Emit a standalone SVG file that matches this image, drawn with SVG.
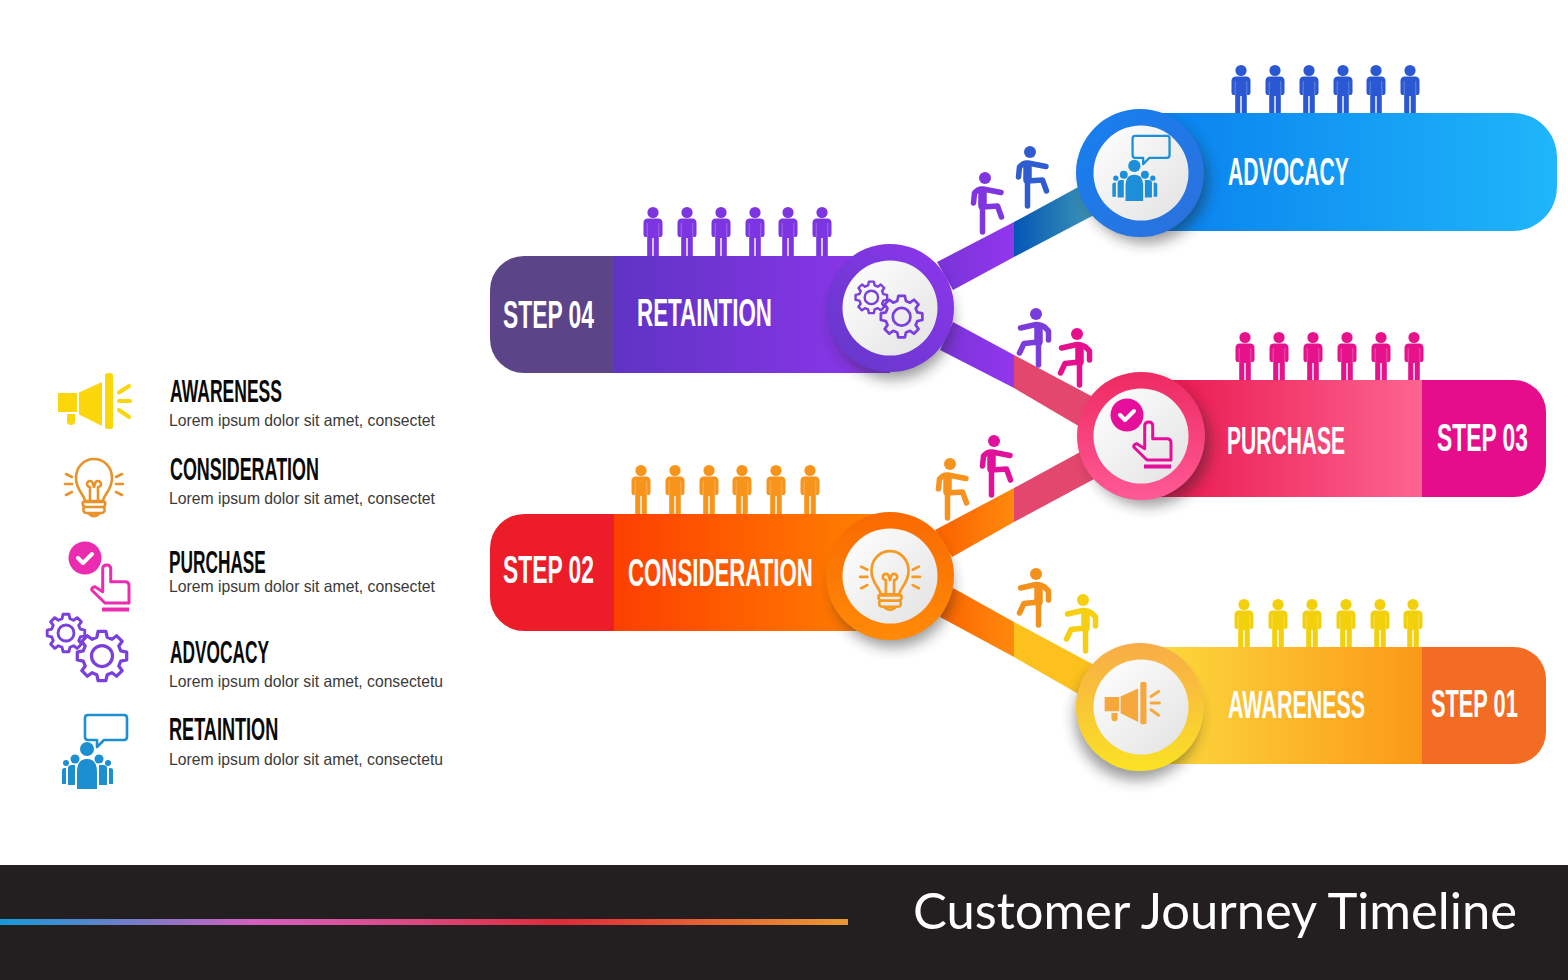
<svg xmlns="http://www.w3.org/2000/svg" xmlns:xlink="http://www.w3.org/1999/xlink" width="1568" height="980" viewBox="0 0 1568 980">
<style>
.head{font-family:"Liberation Sans",Arial,sans-serif;font-weight:700;font-size:38px;fill:#fff}
.lt{font-family:"Liberation Sans",Arial,sans-serif;font-weight:700;font-size:31px;fill:#0a0a0a}
.ld{font-family:"Liberation Sans",Arial,sans-serif;font-size:16.5px;fill:#3a3a3a}
.title{font-family:Lato,"Noto Sans",sans-serif;font-size:51px;fill:#fff}
.disc{fill:url(#disc)}
.sh{fill:#222;opacity:.45;filter:url(#blur)}
.line{fill:none;stroke:currentColor;stroke-linecap:round;stroke-linejoin:round}
.solid{fill:currentColor}
</style>
<defs>
<filter id="blur" x="-30%" y="-30%" width="160%" height="160%"><feGaussianBlur stdDeviation="7"/></filter>
<linearGradient id="disc" x1="0" y1="0" x2="1" y2="1"><stop offset="0" stop-color="#fff"/><stop offset="1" stop-color="#e2e2e2"/></linearGradient>
<linearGradient id="barBlue" gradientUnits="userSpaceOnUse" x1="1160" y1="0" x2="1557" y2="0"><stop offset="0" stop-color="#0a82ee"/><stop offset="1" stop-color="#1fb6fa"/></linearGradient>
<linearGradient id="barPink" gradientUnits="userSpaceOnUse" x1="1160" y1="0" x2="1422" y2="0"><stop offset="0" stop-color="#e8184f"/><stop offset="1" stop-color="#fd6490"/></linearGradient>
<linearGradient id="barGold" gradientUnits="userSpaceOnUse" x1="1160" y1="0" x2="1422" y2="0"><stop offset="0" stop-color="#fcd83c"/><stop offset="1" stop-color="#fb9818"/></linearGradient>
<linearGradient id="barPurple" gradientUnits="userSpaceOnUse" x1="614" y1="0" x2="880" y2="0"><stop offset="0" stop-color="#5f33c4"/><stop offset="1" stop-color="#8c36ea"/></linearGradient>
<linearGradient id="barOrange" gradientUnits="userSpaceOnUse" x1="614" y1="0" x2="880" y2="0"><stop offset="0" stop-color="#fd3f00"/><stop offset="1" stop-color="#ff8200"/></linearGradient>
<linearGradient id="ringBlue" x1="0" y1="0" x2="1" y2="1"><stop offset="0" stop-color="#1580f0"/><stop offset="1" stop-color="#2d70dc"/></linearGradient>
<linearGradient id="ringPink" x1="0" y1="0" x2="0" y2="1"><stop offset="0" stop-color="#ee2a62"/><stop offset="1" stop-color="#ff5a96"/></linearGradient>
<linearGradient id="ringGold" x1="0" y1="0" x2="0" y2="1"><stop offset="0" stop-color="#f8ac48"/><stop offset="1" stop-color="#fae224"/></linearGradient>
<linearGradient id="ringPurple" x1="0" y1="1" x2="1" y2="0"><stop offset="0" stop-color="#6238c8"/><stop offset="1" stop-color="#8f36ee"/></linearGradient>
<linearGradient id="ringOrange" x1="0" y1="0" x2="0" y2="1"><stop offset="0" stop-color="#f96a00"/><stop offset="1" stop-color="#ff8a08"/></linearGradient>
<linearGradient id="linkBlue" gradientUnits="userSpaceOnUse" x1="1014" y1="0" x2="1090" y2="0"><stop offset="0" stop-color="#0456b6"/><stop offset="1" stop-color="#3b93b4"/></linearGradient>
<linearGradient id="linkViolet" gradientUnits="userSpaceOnUse" x1="940" y1="0" x2="1014" y2="0"><stop offset="0" stop-color="#7a34d8"/><stop offset="1" stop-color="#9236ee"/></linearGradient>
<linearGradient id="linkOrange" gradientUnits="userSpaceOnUse" x1="940" y1="0" x2="1014" y2="0"><stop offset="0" stop-color="#fb6400"/><stop offset="1" stop-color="#ff8a0c"/></linearGradient>
<linearGradient id="rule" x1="0" y1="0" x2="1" y2="0"><stop offset="0" stop-color="#159ad8"/><stop offset=".14" stop-color="#6a80c8"/><stop offset=".3" stop-color="#d460c0"/><stop offset=".48" stop-color="#dc4a84"/><stop offset=".66" stop-color="#e02a38"/><stop offset="1" stop-color="#ea9a30"/></linearGradient>

<!-- figure standing on a bar: origin at the feet -->
<g id="person">
<circle cx="0" cy="-43.500" r="5.600" class="solid"/>
<path class="solid" d="M-5-37.500H5Q9.500-37.500 9.500-33V-22Q9.500-19 7.500-19H5.800V0H.7V-18H-.7V0H-5.800V-19H-7.500Q-9.500-19-9.500-22V-33Q-9.500-37.500-5-37.500Z"/>
<path d="M-5.800-33V-19M5.800-33V-19" stroke="#fff" stroke-opacity=".35" stroke-width=".8"/>
</g>
<!-- climber with raised knee: origin at the head -->
<g id="climber">
<circle cx="0" cy="0" r="6" class="solid"/>
<path class="line" stroke-width="8.500" d="M-2.500 14V28"/>
<path class="line" stroke-width="5.500" d="M-2.500 20V54M-11.500 25L-10.500 15Q-7 10.500-2 11L16 14.500M-2.500 29L12.500 28L16.500 39"/>
</g>
<!-- walker seen from the other side: origin at the head -->
<g id="walker">
<circle cx="0" cy="0" r="6" class="solid"/>
<path class="line" stroke-width="8.500" d="M2.500 14V28"/>
<path class="line" stroke-width="5.500" d="M2.500 20V51M-15.500 14L0 10.500Q4 10 8 12.500L12.500 17V26M2.500 28L-12 29.500L-16.500 39"/>
</g>
<g id="megaphone">
<path class="solid" d="M-36-8H-17V11H-36ZM-15-8.500L8-19V25L-15 13.500ZM11-26Q11-28 15-28Q19-28 19-26V26Q19 28 15 28Q11 28 11 26ZM-27 13H-19V20Q-19 24-23 24Q-27 24-27 20Z"/>
<path class="line" stroke-width="4" d="M25-8.500L35-15M25 0H36M25 9L35 16"/>
</g>
<g id="bulb">
<path class="line" stroke-width="2.600" d="M-9 14C-10 7-18 3-18-9C-18-20-10-28 0-28C10-28 18-20 18-9C18 3 10 7 9 14ZM-4 14V0M4 14V0M-4 0A3 3 0 1 1-1-3L0 0L1-3A3 3 0 1 1 4 0M-11 15H11Q12 20 8 20H-8Q-12 20-11 15ZM-10 20Q-12 26-7 26H7Q12 26 10 20M-6 26Q0 32 6 26M-28-13L-22-10M-29-3H-22M-28 8L-22 5M28-13L22-10M29-3H22M28 8L22 5"/>
</g>
<g id="tap">
<circle cx="-14" cy="-19" r="16.500" class="solid"/>
<path d="M-21-19L-16-14L-7-23" fill="none" stroke="#fff" stroke-width="4" stroke-linecap="round" stroke-linejoin="round"/>
<path class="line" stroke-width="3" d="M3.700 14.700V-8Q3.700-12 7.700-12Q11.700-12 11.700-8V4.700H26Q30 4.700 30 8.700V26H6L-7.300 13Q-7.300 10-4 9.700Z"/>
<path d="M3 32.500H30" stroke="currentColor" stroke-width="4"/>
</g>
<g id="gear">
<polygon class="line" points="7.500,-2.070 9.880,-1.560 9.880,1.560 7.500,2.070 6.700,4 8.090,5.880 5.880,8.090 4,6.700 2.070,7.500 1.560,9.880 -1.560,9.880 -2.070,7.500 -4,6.700 -5.880,8.090 -8.090,5.880 -6.700,4 -7.500,2.070 -9.880,1.560 -9.880,-1.560 -7.500,-2.070 -6.700,-4 -8.090,-5.880 -5.880,-8.090 -4,-6.700 -2.070,-7.500 -1.560,-9.880 1.560,-9.880 2.070,-7.500 4,-6.700 5.880,-8.090 8.090,-5.880 6.700,-4"/>
<circle class="line" cx="0" cy="0" r="4.200"/>
</g>
<g id="gears">
<use xlink:href="#gear" href="#gear" transform="translate(-21 -15) scale(1.900)" stroke-width="1.500"/>
<use xlink:href="#gear" href="#gear" transform="translate(15 8) scale(2.500)" stroke-width="1.300"/>
</g>
<g id="crowd">
<path class="line" stroke-width="2.600" d="M-6-38H30Q33-38 33-35V-16Q33-13 30-13H10L3-6V-13H-6Q-9-13-9-16V-35Q-9-38-6-38Z"/>
<circle cx="-7" cy="-4" r="7" class="solid"/><circle cx="-19" cy="6" r="4.500" class="solid"/><circle cx="5" cy="6" r="4.500" class="solid"/><circle cx="-28" cy="10" r="3" class="solid"/><circle cx="14" cy="10" r="3" class="solid"/>
<path class="solid" d="M-17 36V19Q-17 6-7 6Q3 6 3 19V36ZM-26 15Q-26 12-22 12H-19V32H-26ZM5 12H9Q13 12 13 15V32H5ZM-32 17Q-32 15-29 15H-28V31H-32ZM15 15H16Q19 15 19 17V31H15Z"/>
</g>
</defs>

<rect width="1568" height="980" fill="#fff"/>

<!-- links between the stages -->
<g id="connectors">
<polygon points="937,262 1014,222 1014,257 953,290" fill="url(#linkViolet)"/>
<polygon points="1014,222 1082,185 1096,214 1014,257" fill="url(#linkBlue)"/>
<polygon points="953,322 1014,355 1014,388 940,350" fill="url(#linkViolet)"/>
<polygon points="1014,355 1095,398 1082,428 1014,388" fill="#e4476e"/>
<polygon points="935,530 1014,488 1014,522 952,557" fill="url(#linkOrange)"/>
<polygon points="1014,488 1082,451 1096,478 1014,522" fill="#e4476e"/>
<polygon points="953,588 1014,622 1014,657 940,617" fill="url(#linkOrange)"/>
<polygon points="1014,622 1096,666 1082,696 1014,657" fill="#fcc11c"/>
</g>

<!-- figures climbing the links -->
<g id="climbers">
<use href="#climber" transform="translate(985 178)" color="#7f35e0"/>
<use href="#climber" transform="translate(1030 152)" color="#2f5cd0"/>
<use href="#walker" transform="translate(1036 314)" color="#7a3ddc"/>
<use href="#walker" transform="translate(1077 334)" color="#e60f8c"/>
<use href="#climber" transform="translate(950 464)" color="#f7921e"/>
<use href="#climber" transform="translate(994 441)" color="#e0119a"/>
<use href="#walker" transform="translate(1036 574)" color="#f4901c"/>
<use href="#walker" transform="translate(1083 600)" color="#f6d010"/>
</g>

<g id="node-advocacy">
<g color="#2a58d2"><use href="#person" x="1241" y="114"/><use href="#person" x="1275" y="114"/><use href="#person" x="1309" y="114"/><use href="#person" x="1343" y="114"/><use href="#person" x="1376" y="114"/><use href="#person" x="1410" y="114"/></g>
<path d="M1140 113H1513A44 44 0 0 1 1557 157V187A44 44 0 0 1 1513 231H1140Z" fill="url(#barBlue)"/>
<circle class="sh" cx="1146" cy="181" r="62"/>
<circle cx="1140" cy="173" r="64" fill="url(#ringBlue)"/>
<circle class="disc" cx="1141" cy="173" r="47.500"/>
<use href="#crowd" transform="translate(1140.500 169.400) scale(.88)" color="#1c8fd8"/>
<text class="head" transform="translate(1228 185) scale(.56 1)" textLength="216" lengthAdjust="spacingAndGlyphs">ADVOCACY</text>
</g>

<g id="node-purchase">
<g color="#e6128c"><use href="#person" x="1245" y="381"/><use href="#person" x="1279" y="381"/><use href="#person" x="1313" y="381"/><use href="#person" x="1347" y="381"/><use href="#person" x="1381" y="381"/><use href="#person" x="1414" y="381"/></g>
<rect x="1140" y="380" width="283" height="117" fill="url(#barPink)"/>
<path d="M1422 380H1514A32 32 0 0 1 1546 412V465A32 32 0 0 1 1514 497H1422Z" fill="#e60d8c"/>
<circle class="sh" cx="1148" cy="444" r="62"/>
<circle cx="1141" cy="436" r="64" fill="url(#ringPink)"/>
<circle class="disc" cx="1141" cy="436" r="47.500"/>
<use href="#tap" transform="translate(1141 434)" color="#e60f9c"/>
<text class="head" transform="translate(1227 454) scale(.56 1)" textLength="211" lengthAdjust="spacingAndGlyphs">PURCHASE</text>
<text class="head" transform="translate(1437 451) scale(.56 1)" textLength="162.500" lengthAdjust="spacingAndGlyphs">STEP 03</text>
</g>

<g id="node-awareness">
<g color="#f2d00c"><use href="#person" x="1244" y="648"/><use href="#person" x="1278" y="648"/><use href="#person" x="1312" y="648"/><use href="#person" x="1346" y="648"/><use href="#person" x="1380" y="648"/><use href="#person" x="1413" y="648"/></g>
<rect x="1140" y="647" width="283" height="117" fill="url(#barGold)"/>
<path d="M1422 647H1514A32 32 0 0 1 1546 679V732A32 32 0 0 1 1514 764H1422Z" fill="#f26c24"/>
<circle class="sh" cx="1137" cy="718" r="62"/>
<circle cx="1140" cy="707" r="64" fill="url(#ringGold)"/>
<circle class="disc" cx="1141" cy="707" r="47.500"/>
<use href="#megaphone" transform="translate(1132 703) scale(.76)" color="#f6a83c"/>
<text class="head" transform="translate(1228 718) scale(.56 1)" textLength="245" lengthAdjust="spacingAndGlyphs">AWARENESS</text>
<text class="head" transform="translate(1431 717) scale(.56 1)" textLength="155" lengthAdjust="spacingAndGlyphs">STEP 01</text>
</g>

<g id="node-retaintion">
<g color="#7c35e0"><use href="#person" x="653" y="256"/><use href="#person" x="687" y="256"/><use href="#person" x="721" y="256"/><use href="#person" x="755" y="256"/><use href="#person" x="788" y="256"/><use href="#person" x="822" y="256"/></g>
<rect x="613" y="256" width="277" height="117" fill="url(#barPurple)"/>
<path d="M614 256H524A34 34 0 0 0 490 290V339A34 34 0 0 0 524 373H614Z" fill="#5c4488"/>
<circle class="sh" cx="893" cy="319" r="60"/>
<circle cx="890" cy="308" r="64" fill="url(#ringPurple)"/>
<circle class="disc" cx="890" cy="308" r="47.500"/>
<use href="#gears" transform="translate(889 310) scale(.84)" color="#7a3fdc"/>
<text class="head" transform="translate(637 326) scale(.56 1)" textLength="241" lengthAdjust="spacingAndGlyphs">RETAINTION</text>
<text class="head" transform="translate(503 328) scale(.56 1)" textLength="162.500" lengthAdjust="spacingAndGlyphs">STEP 04</text>
</g>

<g id="node-consideration">
<g color="#f7941c"><use href="#person" x="641" y="514"/><use href="#person" x="675" y="514"/><use href="#person" x="709" y="514"/><use href="#person" x="742" y="514"/><use href="#person" x="776" y="514"/><use href="#person" x="810" y="514"/></g>
<rect x="613" y="514" width="277" height="117" fill="url(#barOrange)"/>
<path d="M614 514H524A34 34 0 0 0 490 548V597A34 34 0 0 0 524 631H614Z" fill="#ec1c28"/>
<circle class="sh" cx="893" cy="587" r="60"/>
<circle cx="890" cy="576" r="64" fill="url(#ringOrange)"/>
<circle class="disc" cx="890" cy="576" r="47.500"/>
<use href="#bulb" transform="translate(890 580) scale(1.030)" color="#f59a22"/>
<text class="head" transform="translate(628 586) scale(.56 1)" textLength="330" lengthAdjust="spacingAndGlyphs">CONSIDERATION</text>
<text class="head" transform="translate(503 583) scale(.56 1)" textLength="162.500" lengthAdjust="spacingAndGlyphs">STEP 02</text>
</g>

<!-- key down the left side -->
<g id="legend-awareness">
<use href="#megaphone" transform="translate(94 401)" color="#fad60a"/>
<text class="lt" transform="translate(170 402) scale(.56 1)" textLength="200" lengthAdjust="spacingAndGlyphs">AWARENESS</text>
<text class="ld" x="169" y="426" textLength="266" lengthAdjust="spacingAndGlyphs">Lorem ipsum dolor sit amet, consectet</text>
</g>
<g id="legend-consideration">
<use href="#bulb" transform="translate(94 487)" color="#e8922a"/>
<text class="lt" transform="translate(170 480) scale(.56 1)" textLength="266" lengthAdjust="spacingAndGlyphs">CONSIDERATION</text>
<text class="ld" x="169" y="504" textLength="266" lengthAdjust="spacingAndGlyphs">Lorem ipsum dolor sit amet, consectet</text>
</g>
<g id="legend-purchase">
<use href="#tap" transform="translate(99 577)" color="#ec2cb0"/>
<text class="lt" transform="translate(169 573) scale(.56 1)" textLength="173" lengthAdjust="spacingAndGlyphs">PURCHASE</text>
<text class="ld" x="169" y="592" textLength="266" lengthAdjust="spacingAndGlyphs">Lorem ipsum dolor sit amet, consectet</text>
</g>
<g id="legend-advocacy">
<use href="#gears" transform="translate(87 648)" color="#7a3fdc"/>
<text class="lt" transform="translate(170 663) scale(.56 1)" textLength="177" lengthAdjust="spacingAndGlyphs">ADVOCACY</text>
<text class="ld" x="169" y="687" textLength="274" lengthAdjust="spacingAndGlyphs">Lorem ipsum dolor sit amet, consectetu</text>
</g>
<g id="legend-retaintion">
<use href="#crowd" transform="translate(94 753)" color="#1c8fd0"/>
<text class="lt" transform="translate(169 740) scale(.56 1)" textLength="195" lengthAdjust="spacingAndGlyphs">RETAINTION</text>
<text class="ld" x="169" y="765" textLength="274" lengthAdjust="spacingAndGlyphs">Lorem ipsum dolor sit amet, consectetu</text>
</g>

<g id="footer">
<rect x="0" y="865" width="1568" height="115" fill="#231f20"/>
<rect x="0" y="919" width="848" height="6" fill="url(#rule)"/>
<text class="title" x="913" y="929" textLength="604" lengthAdjust="spacingAndGlyphs">Customer Journey Timeline</text>
</g>
</svg>
